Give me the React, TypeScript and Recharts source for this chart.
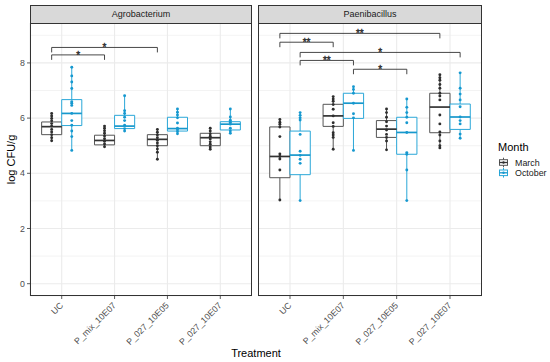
import React from 'react';
import {
  ComposedChart,
  XAxis,
  YAxis,
  CartesianGrid,
  ReferenceArea,
  ReferenceLine,
  Scatter,
} from 'recharts';

// ---------- data ----------
const categories = ['UC', 'P_mix_10E07', 'P_027_10E05', 'P_027_10E07'];
const months = ['March', 'October'];
const panelNames = ['Agrobacterium', 'Paenibacillus'];
const yTickLabels = [0, 2, 4, 6, 8];
const gridTicks = [0, 1, 2, 3, 4, 5, 6, 7, 8, 9];

// box stats per category: [lower whisker, q1, median, q3, upper whisker]
const agroMarchBox = [
  [5.18, 5.4, 5.69, 5.86, 6.17],
  [4.96, 5.03, 5.19, 5.38, 5.71],
  [4.51, 5.0, 5.23, 5.4, 5.59],
  [4.87, 5.0, 5.29, 5.45, 5.63],
];
const agroOctoberBox = [
  [4.83, 5.73, 6.17, 6.67, 7.84],
  [5.53, 5.62, 5.71, 6.1, 6.81],
  [5.43, 5.53, 5.62, 6.03, 6.33],
  [5.45, 5.57, 5.78, 5.87, 6.33],
];
const paeniMarchBox = [
  [3.03, 3.84, 4.61, 5.68, 5.95],
  [4.87, 5.7, 6.08, 6.5, 6.78],
  [4.85, 5.3, 5.6, 5.91, 6.33],
  [4.92, 5.47, 6.4, 6.9, 7.57],
];
const paeniOctoberBox = [
  [3.01, 3.95, 4.66, 5.53, 6.2],
  [4.83, 5.99, 6.54, 6.9, 7.14],
  [3.01, 4.69, 5.48, 6.03, 6.69],
  [5.27, 5.59, 6.04, 6.51, 7.64],
];

// individual observations per category
const agroMarchPoints = [
  [6.17, 6.08, 5.99, 5.9, 5.8, 5.71, 5.59, 5.5, 5.4, 5.29, 5.18],
  [5.71, 5.63, 5.54, 5.45, 5.35, 5.25, 5.16, 5.06, 4.96],
  [5.59, 5.49, 5.39, 5.29, 5.2, 5.1, 5.0, 4.88, 4.76, 4.51],
  [5.63, 5.53, 5.43, 5.34, 5.24, 5.14, 5.05, 4.95, 4.87],
];
const agroOctoberPoints = [
  [7.84, 7.53, 7.31, 7.07, 6.59, 6.54, 6.46, 6.17, 5.91, 5.74, 5.53, 5.33, 4.83],
  [6.81, 6.27, 6.17, 6.03, 5.91, 5.74, 5.62, 5.53],
  [6.33, 6.21, 6.11, 6.01, 5.82, 5.63, 5.58, 5.51, 5.43],
  [6.33, 6.04, 5.92, 5.85, 5.78, 5.63, 5.53, 5.45],
];
const paeniMarchPoints = [
  [5.95, 5.85, 5.78, 5.68, 5.33, 4.7, 4.61, 4.52, 4.12, 3.03],
  [6.78, 6.69, 6.61, 6.49, 6.32, 6.08, 5.83, 5.7, 5.47, 5.39, 5.3, 4.87],
  [6.33, 6.2, 6.03, 5.87, 5.71, 5.57, 5.41, 5.3, 5.17, 4.85],
  [7.57, 7.46, 7.37, 7.22, 7.08, 6.9, 6.8, 6.66, 6.11, 5.79, 5.5, 5.39, 5.17, 5.0, 4.92],
];
const paeniOctoberPoints = [
  [6.2, 6.1, 6.01, 5.93, 5.41, 4.8, 4.65, 4.51, 4.36, 3.01],
  [7.14, 7.04, 6.9, 6.54, 6.16, 6.01, 4.83],
  [6.69, 6.39, 6.2, 6.03, 5.83, 5.48, 4.75, 4.69, 4.12, 3.01],
  [7.64, 7.08, 6.87, 6.66, 6.41, 6.04, 5.91, 5.79, 5.42, 5.27],
];

// significance brackets: [category from, month from, category to, month to, y level, label]
const agroBrackets: [number, number, number, number, number, string][] = [
  [0, 0, 1, 0, 8.29, '*'],
  [0, 0, 2, 0, 8.56, '*'],
];
const paeniBrackets: [number, number, number, number, number, string][] = [
  [0, 0, 3, 0, 9.07, '**'],
  [0, 0, 1, 0, 8.75, '**'],
  [0, 1, 3, 1, 8.38, '*'],
  [0, 1, 1, 1, 8.09, '**'],
  [1, 1, 2, 1, 7.77, '*'],
];

// ---------- styling ----------
const FONT = '"Liberation Sans", Arial, Helvetica, sans-serif';
const DODGE = [-0.19, 0.19];
const HALF = 0.19;
const TIP = 0.18;
const monthStyle = [
  { box: '#555555', median: '#333333', point: '#2e2e2e' },
  { box: '#2aa7d8', median: '#1798cc', point: '#1598cf' },
];

const XTick = (props: any) => {
  const { x, y, payload } = props;
  const label = categories[Math.round(payload.value) - 1] ?? '';
  return (
    <g transform={`translate(${x + 2},${y + 5})`}>
      <text
        x={0}
        y={0}
        transform="rotate(-45)"
        textAnchor="end"
        fontSize={8.8}
        fontFamily={FONT}
        fill="#4d4d4d"
      >
        {label}
      </text>
    </g>
  );
};

const YTick = (props: any) => {
  const { x, y, payload } = props;
  if (!yTickLabels.includes(payload.value)) return <g />;
  return (
    <g>
      <text x={x} y={y} dy="0.35em" textAnchor="end" fontSize={8.8} fontFamily={FONT} fill="#4d4d4d">
        {payload.value}
      </text>
      <line x1={x + 2} x2={x + 5} y1={y} y2={y} stroke="#333" strokeWidth={0.8} />
    </g>
  );
};

const GridH = (p: any) => {
  const major = typeof p.index === 'number' ? p.index % 2 === 0 : true;
  return (
    <line x1={p.x1} y1={p.y1} x2={p.x2} y2={p.y2} stroke="#ebebeb" strokeWidth={major ? 1.1 : 0.6} />
  );
};
const GridV = (p: any) => (
  <line x1={p.x1} y1={p.y1} x2={p.x2} y2={p.y2} stroke="#ebebeb" strokeWidth={1.1} />
);

const Dot = (color: string) => (p: any) => <circle cx={p.cx} cy={p.cy} r={1.45} fill={color} />;

const StarLabel = (p: any) => (
  <text
    x={p.cx}
    y={p.cy + 3.6}
    textAnchor="middle"
    fontSize={10}
    fontFamily={FONT}
    fill="#2b2b2b"
    stroke="#2b2b2b"
    strokeWidth={0.35}
  >
    {p.payload.label}
  </text>
);

function Panel({
  boxes,
  points,
  brackets,
  width,
  showY,
}: {
  boxes: number[][][];
  points: number[][][];
  brackets: [number, number, number, number, number, string][];
  width: number;
  showY: boolean;
}) {
  const elems: React.ReactNode[] = [];
  boxes.forEach((monthBoxes, m) => {
    const st = monthStyle[m];
    monthBoxes.forEach((b, i) => {
      const cx = i + 1 + DODGE[m];
      const [lo, q1, med, q3, hi] = b;
      elems.push(
        <ReferenceLine
          key={`wu${m}${i}`}
          segment={[{ x: cx, y: q3 }, { x: cx, y: hi }]}
          stroke={st.box}
          strokeWidth={1}
        />,
        <ReferenceLine
          key={`wl${m}${i}`}
          segment={[{ x: cx, y: lo }, { x: cx, y: q1 }]}
          stroke={st.box}
          strokeWidth={1}
        />,
        <ReferenceArea
          key={`b${m}${i}`}
          x1={cx - HALF}
          x2={cx + HALF}
          y1={q1}
          y2={q3}
          fill="#ffffff"
          fillOpacity={1}
          stroke={st.box}
          strokeWidth={1}
        />,
        <ReferenceLine
          key={`m${m}${i}`}
          segment={[{ x: cx - HALF, y: med }, { x: cx + HALF, y: med }]}
          stroke={st.median}
          strokeWidth={1.7}
        />
      );
    });
  });

  const bracketElems: React.ReactNode[] = [];
  const labelData: { x: number; y: number; label: string }[] = [];
  brackets.forEach(([c1, m1, c2, m2, yv, label], k) => {
    const xa = c1 + 1 + DODGE[m1];
    const xb = c2 + 1 + DODGE[m2];
    bracketElems.push(
      <ReferenceLine key={`bh${k}`} segment={[{ x: xa, y: yv }, { x: xb, y: yv }]} stroke="#333" strokeWidth={0.9} />,
      <ReferenceLine key={`bl${k}`} segment={[{ x: xa, y: yv }, { x: xa, y: yv - TIP }]} stroke="#333" strokeWidth={0.9} />,
      <ReferenceLine key={`br${k}`} segment={[{ x: xb, y: yv }, { x: xb, y: yv - TIP }]} stroke="#333" strokeWidth={0.9} />
    );
    labelData.push({ x: (xa + xb) / 2, y: yv, label });
  });

  return (
    <ComposedChart width={width} height={362} margin={{ top: 23, right: 0, bottom: 6, left: 0 }}>
      <CartesianGrid horizontal={GridH} vertical={GridV} />
      <XAxis
        type="number"
        dataKey="x"
        domain={[0.4, 4.6]}
        ticks={[1, 2, 3, 4]}
        interval={0}
        allowDataOverflow
        height={60}
        tickSize={3}
        tickMargin={2}
        axisLine={false}
        tickLine={{ stroke: '#333', strokeWidth: 0.8 }}
        tick={<XTick />}
      />
      <YAxis
        type="number"
        dataKey="y"
        domain={[-0.446, 9.446]}
        ticks={gridTicks}
        interval={0}
        allowDataOverflow
        width={showY ? 30 : 0}
        hide={!showY}
        tickSize={3}
        tickMargin={2}
        axisLine={false}
        tickLine={false}
        tick={<YTick />}
      />
      {elems}
      {points.map((monthPts, m) => (
        <Scatter
          key={`s${m}`}
          data={monthPts.flatMap((vals, i) => vals.map((v) => ({ x: i + 1 + DODGE[m], y: v })))}
          dataKey="y"
          shape={Dot(monthStyle[m].point)}
          isAnimationActive={false}
        />
      ))}
      {bracketElems}
      <Scatter data={labelData} dataKey="y" shape={StarLabel} isAnimationActive={false} />
    </ComposedChart>
  );
}

const panelBox = (left: number, width: number): React.CSSProperties => ({
  position: 'absolute',
  left,
  top: 23,
  width,
  height: 273,
  border: '1px solid #333',
  boxSizing: 'border-box',
  pointerEvents: 'none',
});
const stripBox = (left: number, width: number): React.CSSProperties => ({
  position: 'absolute',
  left,
  top: 5,
  width,
  height: 19,
  border: '1px solid #333',
  boxSizing: 'border-box',
  background: '#d9d9d9',
  fontFamily: FONT,
  fontSize: 9,
  color: '#1a1a1a',
  textAlign: 'center',
  lineHeight: '17px',
});

const LegendKey = ({ y, st }: { y: number; st: (typeof monthStyle)[number] }) => (
  <g>
    <line x1={503.5} x2={503.5} y1={y - 4.8} y2={y + 4.8} stroke={st.box} strokeWidth={1} />
    <rect x={499.5} y={y - 2.8} width={8} height={5.6} fill="#fff" stroke={st.box} strokeWidth={1} />
    <line x1={499.5} x2={507.5} y1={y} y2={y} stroke={st.median} strokeWidth={1.3} />
    <circle cx={503.5} cy={y} r={1.2} fill={st.point} />
  </g>
);

export default function App() {
  return (
    <div style={{ position: 'relative', width: 550, height: 362, background: '#fff', overflow: 'hidden' }}>
      <style>{`body{margin:0;}`}</style>
      <div style={{ position: 'absolute', left: 0, top: 0 }}>
        <Panel boxes={[agroMarchBox, agroOctoberBox]} points={[agroMarchPoints, agroOctoberPoints]} brackets={agroBrackets} width={252} showY />
      </div>
      <div style={{ position: 'absolute', left: 258, top: 0 }}>
        <Panel boxes={[paeniMarchBox, paeniOctoberBox]} points={[paeniMarchPoints, paeniOctoberPoints]} brackets={paeniBrackets} width={224} showY={false} />
      </div>
      <div style={panelBox(30, 222)} />
      <div style={panelBox(258, 224)} />
      <div style={stripBox(30, 222)}>{panelNames[0]}</div>
      <div style={stripBox(258, 224)}>{panelNames[1]}</div>
      <svg width={550} height={362} style={{ position: 'absolute', left: 0, top: 0, pointerEvents: 'none' }}>
        <text x={256} y={357} textAnchor="middle" fontSize={11} fontFamily={FONT} fill="#000">
          Treatment
        </text>
        <text
          x={0}
          y={0}
          transform="translate(15.3,159.5) rotate(-90)"
          textAnchor="middle"
          fontSize={11}
          fontFamily={FONT}
          fill="#000"
        >
          log CFU/g
        </text>
        <text x={498} y={150.5} fontSize={11} fontFamily={FONT} fill="#000">
          Month
        </text>
        <LegendKey y={162.5} st={monthStyle[0]} />
        <LegendKey y={172.8} st={monthStyle[1]} />
        <text x={515} y={165.7} fontSize={8.9} fontFamily={FONT} fill="#1a1a1a">
          {months[0]}
        </text>
        <text x={515} y={176} fontSize={8.9} fontFamily={FONT} fill="#1a1a1a">
          {months[1]}
        </text>
      </svg>
    </div>
  );
}
